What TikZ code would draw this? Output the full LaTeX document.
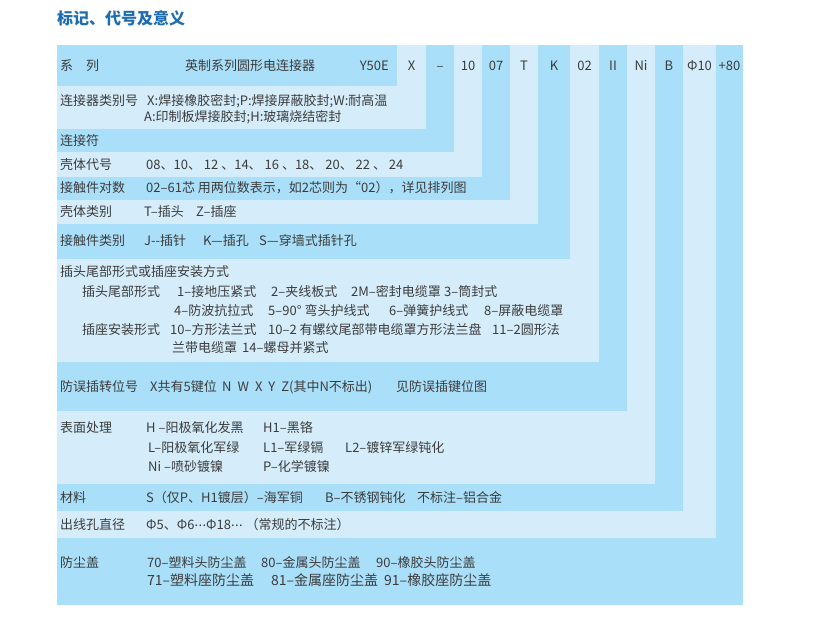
\documentclass[tikz,border=0pt]{standalone}
\usepackage{fontspec}
\setmainfont{Noto Sans CJK SC}
\definecolor{dk}{HTML}{AADFF9}
\definecolor{lt}{HTML}{D5EDFA}
\definecolor{txt}{HTML}{3C3C3C}
\definecolor{ttl}{HTML}{1E6DB3}
\newcommand{\middots}{\raisebox{3.6pt}{.\kern0.4pt.\kern0.4pt.}}
\newcommand{\wsp}{\hspace{6pt}}
\begin{document}
\begin{tikzpicture}[x=1pt,y=-1pt,
  t/.style={anchor=west, inner sep=0pt, text=txt, font=\fontsize{13}{15}\selectfont, text height=11pt, text depth=1.5pt},
  tc/.style={t, anchor=center},
  tb/.style={t, font=\fontsize{14}{16}\selectfont}]
\useasboundingbox (0,0) rectangle (816,630);
% nested staircase bands
\fill[dk] (57,45) rectangle (743,605);
\fill[lt] (57,45) rectangle (716,538);
\fill[dk] (57,45) rectangle (683,511);
\fill[lt] (57,45) rectangle (655,484);
\fill[dk] (57,45) rectangle (627,411);
\fill[lt] (57,45) rectangle (599,362);
\fill[dk] (57,45) rectangle (570,259);
\fill[lt] (57,45) rectangle (538,224);
\fill[dk] (57,45) rectangle (510,200);
\fill[lt] (57,45) rectangle (482,177);
\fill[dk] (57,45) rectangle (454,152);
\fill[lt] (57,45) rectangle (426,129);
\fill[dk] (57,45) rectangle (397,86);
% title
\node[anchor=west, inner sep=0pt, text=ttl, font=\fontsize{16}{18}\selectfont\bfseries] (title) at (57,18) {标记、代号及意义};
% header row
\node[t] (h0) at (60,66) {系　列};
\node[tc] (h1) at (250,66) {英制系列圆形电连接器};
\node[t, anchor=east] (h2) at (389,66) {Y50E};
\node[tc] (c1) at (411.5,66) {X};
\node[tc] (c2) at (440,66) {–};
\node[tc] (c3) at (468,66) {10};
\node[tc] (c4) at (496,66) {07};
\node[tc] (c5) at (524,66) {T};
\node[tc] (c6) at (554,66) {K};
\node[tc] (c7) at (584.5,66) {02};
\node[tc] (c8) at (613,66) {II};
\node[tc] (c9) at (641,66) {Ni};
\node[tc] (c10) at (669,66) {B};
\node[tc] (c11) at (699.5,66) {Φ10};
\node[tc] (c12) at (729.5,66) {+80};
% rows
\node[t] (r1) at (60,101) {连接器类别号};
\node[t] (r1a) at (147,101) {X:焊接橡胶密封;P:焊接屏蔽胶封;W:耐高温};
\node[t] (r1b) at (144,117) {A:印制板焊接胶封;H:玻璃烧结密封};
\node[t] (r2) at (60,141) {连接符};
\node[t] (r3) at (60,165) {壳体代号};
\node[t] (r3a) at (146,165) {08、10、 12 、14、 16 、18、 20、 22 、 24};
\node[t] (r4) at (60,188) {接触件对数};
\node[t] (r4a) at (146,188) {02–61芯 用两位数表示，如2芯则为“02），详见排列图};
\node[t] (r5) at (60,212) {壳体类别};
\node[t] (r5a) at (144,212) {T–插头};
\node[t] (r5b) at (196,212) {Z–插座};
\node[t] (r6) at (60,241) {接触件类别};
\node[t] (r6a) at (144,241) {J-{}-插针};
\node[t] (r6b) at (203,241) {K—插孔};
\node[t] (r6c) at (259,241) {S—穿墙式插针孔};
% tail / mounting
\node[t] (r7) at (60,272) {插头尾部形式或插座安装方式};
\node[t] (r7a) at (82,292) {插头尾部形式};
\node[t] (r7a1) at (177,292) {1–接地压紧式};
\node[t] (r7a2) at (271,292) {2–夹线板式};
\node[t] (r7a3) at (351,292) {2M–密封电缆罩};
\node[t] (r7a4) at (444,292) {3–筒封式};
\node[t] (r7b1) at (174,311) {4–防波抗拉式};
\node[t] (r7b2) at (268,311) {5–90° 弯头护线式};
\node[t] (r7b3) at (389,311) {6–弹簧护线式};
\node[t] (r7b4) at (484,311) {8–屏蔽电缆罩};
\node[t] (r7c) at (82,330) {插座安装形式};
\node[t] (r7c1) at (170,330) {10–方形法兰式};
\node[t] (r7c2) at (268,330) {10–2 有螺纹尾部带电缆罩方形法兰盘};
\node[t] (r7c3) at (492,330) {11–2圆形法};
\node[t] (r7d1) at (172,348) {兰带电缆罩};
\node[t] (r7d2) at (242,348) {14–螺母并紧式};
% keying
\node[t] (r8) at (60,387) {防误插转位号};
\node[t] (r8a) at (150,387) {X共有5键位};
\node[t] (r8b) at (222,387) {N\wsp W\wsp X\wsp Y\wsp Z(其中N不标出)};
\node[t] (r8c) at (396,387) {见防误插键位图};
% surface
\node[t] (r9) at (60,428) {表面处理};
\node[t] (r9a1) at (146,428) {H –阳极氧化发黑};
\node[t] (r9a2) at (263,428) {H1–黑铬};
\node[t] (r9b1) at (148,448) {L–阳极氧化军绿};
\node[t] (r9b2) at (263,448) {L1–军绿镉};
\node[t] (r9b3) at (345,448) {L2–镀锌军绿钝化};
\node[t] (r9c1) at (148,467) {Ni –喷砂镀镍};
\node[t] (r9c2) at (263,467) {P–化学镀镍};
% material
\node[t] (r10) at (60,498) {材料};
\node[t] (r10a) at (146,498) {S（仅P、H1镀层）–海军铜};
\node[t] (r10b) at (325,498) {B–不锈钢钝化};
\node[t] (r10c) at (417,498) {不标注–铝合金};
% hole
\node[t] (r11) at (60,525) {出线孔直径};
\node[t] (r11a) at (146,525) {Φ5、Φ6\middots Φ18\middots\ （常规的不标注）};
% dust cap
\node[t] (r12) at (60,563) {防尘盖};
\node[t] (r12a1) at (147,563) {70–塑料头防尘盖};
\node[t] (r12a2) at (261,563) {80–金属头防尘盖};
\node[t] (r12a3) at (376,563) {90–橡胶头防尘盖};
\node[tb] (r12b1) at (147,581) {71–塑料座防尘盖};
\node[tb] (r12b2) at (271,581) {81–金属座防尘盖};
\node[tb] (r12b3) at (384,581) {91–橡胶座防尘盖};
\end{tikzpicture}
\end{document}
